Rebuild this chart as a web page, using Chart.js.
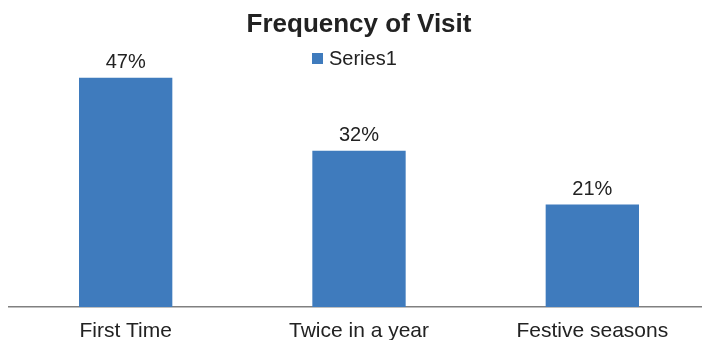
<!DOCTYPE html>
<html>
<head>
<meta charset="utf-8">
<script src="https://cdn.jsdelivr.net/npm/chart.js@4.4.1/dist/chart.umd.min.js"></script>
<style>
  html, body { margin: 0; padding: 0; background: #fff; }
  #wrap { width: 702px; height: 340px; overflow: hidden; position: relative; }
  #visitChart { position: absolute; left: 0; top: 0; }
</style>
</head>
<body>
<div id="wrap"><canvas id="visitChart" width="716" height="356"></canvas></div>
<script>
var categories = ["First Time", "Twice in a year", "Festive seasons"];
var seriesName = "Series1";
var visitShare = [47, 32, 21];
var chartTitle = "Frequency of Visit";

var barColor = "#3F7BBD";
var textColor = "#222";
var fontFamily = "'Liberation Sans', Arial, Helvetica, sans-serif";

// title, legend and the % labels above each bar
var overlayPlugin = {
  id: "overlay",
  afterDatasetsDraw: function (chart) {
    var ctx = chart.ctx;
    ctx.save();
    ctx.fillStyle = textColor;
    ctx.textAlign = "center";
    ctx.textBaseline = "middle";

    ctx.font = "bold 26px " + fontFamily;
    ctx.fillText(chartTitle, 359, 25);

    // legend entry
    ctx.font = "20px " + fontFamily;
    ctx.fillStyle = barColor;
    ctx.fillRect(312, 53, 11, 11);
    ctx.fillStyle = textColor;
    ctx.textAlign = "left";
    ctx.fillText(seriesName, 329, 59);

    ctx.textAlign = "center";
    ctx.textBaseline = "alphabetic";
    var meta = chart.getDatasetMeta(0);
    meta.data.forEach(function (bar, i) {
      ctx.fillText(visitShare[i] + "%", bar.x, bar.y - 10);
    });
    ctx.restore();
  }
};

new Chart(document.getElementById("visitChart"), {
  type: "bar",
  data: {
    labels: categories,
    datasets: [{
      label: seriesName,
      data: visitShare,
      backgroundColor: barColor,
      borderWidth: 0,
      categoryPercentage: 1.0,
      barPercentage: 0.4
    }]
  },
  options: {
    responsive: false,
    animation: false,
    layout: { padding: { top: 63, left: 9, right: 7, bottom: 0 } },
    plugins: {
      legend: { display: false },
      title: { display: false },
      tooltip: { enabled: false }
    },
    scales: {
      x: {
        grid: { display: false, drawTicks: false },
        border: { display: true, color: "#808080", width: 1.5 },
        ticks: {
          color: textColor,
          padding: 14,
          font: { family: fontFamily, size: 21, lineHeight: 1 }
        }
      },
      y: {
        display: false,
        min: 0,
        max: 50
      }
    }
  },
  plugins: [overlayPlugin]
});
</script>
</body>
</html>
